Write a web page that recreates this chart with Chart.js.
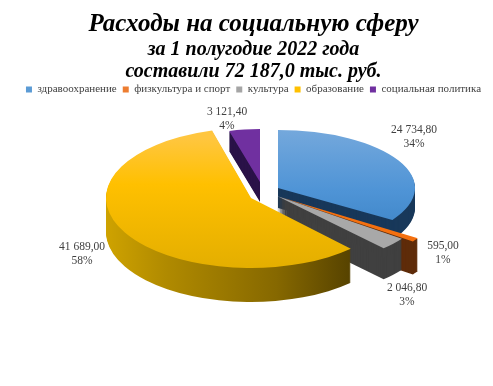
<!DOCTYPE html>
<html>
<head>
<meta charset="utf-8">
<style>
html, body { margin: 0; padding: 0; background: #fff; }
</style>
<script src="https://cdn.jsdelivr.net/npm/chart.js@4"></script>
</head>
<body>
<canvas id="pie-chart-id" width="493" height="386"></canvas>
<script>
const SERIF = '"Liberation Serif", "Times New Roman", serif'

const categories = ['здравоохранение', 'физкультура и спорт', 'культура', 'образование', 'социальная политика']
const values = [24734.8, 595, 2046.8, 41689, 3121.4]
const percents = ['34%', '1%', '3%', '58%', '4%']
const valueLabels = ['24 734,80', '595,00', '2 046,80', '41 689,00', '3 121,40']
const legendColors = ['#5b9bd5', '#ed7d31', '#a5a5a5', '#ffc000', '#7030a0']

// where each exploded slice sits on screen: apex x/y, radii x/y, side depth
const SLICE_GEOM = [
    { ax: 278, ay: 188, rx: 137, ry: 58, depth: 20 },
    { ax: 280, ay: 197, rx: 165, ry: 75, depth: 33 },
    { ax: 277, ay: 196, rx: 155, ry: 72, depth: 31 },
    { ax: 251, ay: 198, rx: 145, ry: 70, depth: 34 },
    { ax: 260, ay: 182, rx: 115, ry: 53, depth: 20 }
]
const DRAW_ORDER = [4, 0, 1, 2, 3]
const LABEL_POS = [[414, 130], [443, 246], [407, 288], [82, 247], [227, 112]]
const LEGEND_LIFT = 9

function topFill(ctx, i, toY) {
    if (i === 0) {
        const g = ctx.createLinearGradient(0, toY(130), 0, toY(230))
        g.addColorStop(0, '#74a8dc')
        g.addColorStop(0.6, '#4f94d6')
        g.addColorStop(1, '#3f86c8')
        return g
    }
    if (i === 3) {
        const g = ctx.createLinearGradient(0, toY(138), 0, toY(270))
        g.addColorStop(0, '#ffc63f')
        g.addColorStop(0.35, '#ffc000')
        g.addColorStop(1, '#e3ae00')
        return g
    }
    return ['', '#f4700f', '#a8a8a8', '', '#7030a0'][i]
}

function sideFill(ctx, i, toX) {
    if (i === 3) {
        const g = ctx.createLinearGradient(toX(105), 0, toX(350), 0)
        g.addColorStop(0, '#cfa300')
        g.addColorStop(0.25, '#b08a00')
        g.addColorStop(0.7, '#866800')
        g.addColorStop(1, '#574300')
        return g
    }
    return ['#18385a', '#5f2c0a', '#404040', '', '#2a1248'][i]
}

const pie3d = {
    id: 'pie3d',
    afterLayout(chart) {
        chart.legend.top -= LEGEND_LIFT
        chart.legend.bottom -= LEGEND_LIFT
    },
    beforeDatasetsDraw(chart) {
        const ctx = chart.ctx
        const arcs = chart.getDatasetMeta(0).data
        DRAW_ORDER.forEach(i => {
            const arc = arcs[i]
            const geom = SLICE_GEOM[i]
            const R = arc.outerRadius
            const sx = geom.rx / R
            const sy = geom.ry / R
            const toX = px => arc.x + (px - geom.ax) / sx
            const toY = py => arc.y + (py - geom.ay) / sy
            const baseOptions = arc.options

            const drawAt = (d, fill) => {
                ctx.save()
                ctx.translate(geom.ax, geom.ay + d)
                ctx.scale(sx, sy)
                ctx.translate(-arc.x, -arc.y)
                arc.options = { ...baseOptions, backgroundColor: fill }
                arc.draw(ctx)
                ctx.restore()
            }

            const side = sideFill(ctx, i, toX)
            for (let d = geom.depth; d > 0; d--) drawAt(d, side)
            drawAt(0, topFill(ctx, i, toY))
            arc.options = baseOptions
        })
        return false
    },
    afterDraw(chart) {
        const ctx = chart.ctx
        ctx.save()
        ctx.font = '11.5px ' + SERIF
        ctx.fillStyle = '#404040'
        ctx.textAlign = 'center'
        ctx.textBaseline = 'middle'
        valueLabels.forEach((label, i) => {
            ctx.fillText(label, LABEL_POS[i][0], LABEL_POS[i][1])
            ctx.fillText(percents[i], LABEL_POS[i][0], LABEL_POS[i][1] + 14)
        })
        ctx.restore()
    }
}

new Chart(document.getElementById('pie-chart-id'), {
    type: 'pie',
    plugins: [pie3d],
    data: {
        labels: categories,
        datasets: [{
            data: values,
            backgroundColor: legendColors,
            borderWidth: 0
        }]
    },
    options: {
        responsive: false,
        animation: false,
        radius: 100,
        layout: { padding: { top: 12, left: 14 } },
        plugins: {
            tooltip: { enabled: false },
            title: {
                display: true,
                text: 'Расходы на социальную сферу',
                color: '#000',
                font: { family: SERIF, size: 25, weight: 'bold', style: 'italic', lineHeight: 1 },
                padding: { top: 0, bottom: 0 }
            },
            subtitle: {
                display: true,
                text: ['за 1 полугодие 2022 года', 'составили 72 187,0 тыс. руб.'],
                color: '#000',
                font: { family: SERIF, size: 20, weight: 'bold', style: 'italic', lineHeight: 1.1 },
                padding: { top: 2, bottom: 4 }
            },
            legend: {
                position: 'top',
                labels: {
                    boxWidth: 6,
                    boxHeight: 6,
                    padding: 6,
                    color: '#404040',
                    font: { family: SERIF, size: 11 }
                }
            }
        }
    }
})
</script>
</body>
</html>
